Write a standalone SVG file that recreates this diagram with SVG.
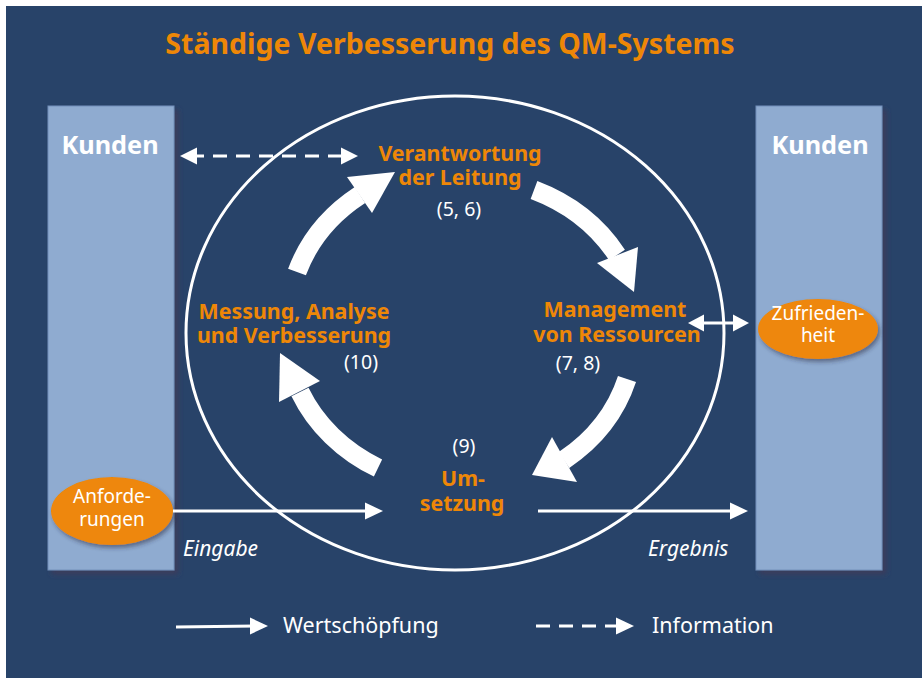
<svg xmlns="http://www.w3.org/2000/svg" width="922" height="678" viewBox="0 0 922 678">
<defs>
<style>
.bg{fill:#284369}
.box{fill:#8FABD0;stroke:#7390BA;stroke-width:1}
.kunden{font-family:"Noto Sans","Open Sans",sans-serif;font-weight:bold;font-size:25.3px;fill:#ffffff;text-anchor:middle}
.title{font-family:"Noto Sans","Open Sans",sans-serif;font-weight:bold;font-size:28.5px;fill:#EE8707;text-anchor:middle}
.lbl{font-family:"Noto Sans","Open Sans",sans-serif;font-weight:bold;font-size:21.4px;fill:#EE8707;text-anchor:middle}
.num{font-family:"Noto Sans","Open Sans",sans-serif;font-size:19.5px;fill:#ffffff;text-anchor:middle}
.ell{font-family:"Noto Sans","Open Sans",sans-serif;font-size:19px;fill:#ffffff;text-anchor:middle}
.it{font-family:"Noto Sans","Open Sans",sans-serif;font-style:italic;font-size:21px;fill:#ffffff}
.leg{font-family:"Noto Sans","Open Sans",sans-serif;font-size:21.5px;fill:#ffffff}
.arc{fill:none;stroke:#ffffff;stroke-width:19;stroke-linecap:butt}
.head{fill:#ffffff}
.line{fill:none;stroke:#ffffff;stroke-width:3}
.dash{fill:none;stroke:#ffffff;stroke-width:3;stroke-dasharray:14 9}
.oval{fill:#EE8707}
</style>
<filter id="sh" x="-20%" y="-20%" width="150%" height="150%">
<feGaussianBlur in="SourceAlpha" stdDeviation="2.5"/>
<feOffset dx="4" dy="4" result="b"/>
<feFlood flood-color="#3f3a58" flood-opacity="0.8"/>
<feComposite in2="b" operator="in"/>
<feMerge><feMergeNode/><feMergeNode in="SourceGraphic"/></feMerge>
</filter>
<filter id="sh2" x="-20%" y="-20%" width="150%" height="150%">
<feGaussianBlur in="SourceAlpha" stdDeviation="2"/>
<feOffset dx="2" dy="3" result="b"/>
<feFlood flood-color="#2a2a40" flood-opacity="0.5"/>
<feComposite in2="b" operator="in"/>
<feMerge><feMergeNode/><feMergeNode in="SourceGraphic"/></feMerge>
</filter>
</defs>

<rect class="bg" x="6" y="6" width="916" height="672"/>

<text class="title" x="450" y="54">Ständige Verbesserung des QM-Systems</text>

<g id="kunden-links">
<rect class="box" x="48" y="106" width="126" height="464" filter="url(#sh)"/>
<text class="kunden" x="110" y="154">Kunden</text>
</g>
<g id="kunden-rechts">
<rect class="box" x="756" y="106" width="126" height="464" filter="url(#sh)"/>
<text class="kunden" x="820" y="154">Kunden</text>
</g>

<g id="qm-kreis">
<ellipse cx="455" cy="333" rx="269" ry="237" fill="none" stroke="#ffffff" stroke-width="3"/>
</g>

<g id="anforderungen">
<ellipse class="oval" cx="112" cy="511" rx="61" ry="34" filter="url(#sh2)"/>
<text class="ell" x="112" y="503">Anforde-</text>
<text class="ell" x="112" y="526">rungen</text>
</g>
<g id="zufriedenheit">
<ellipse class="oval" cx="818" cy="329" rx="60" ry="30" filter="url(#sh2)"/>
<text class="ell" x="818" y="320">Zufrieden-</text>
<text class="ell" x="818" y="342">heit</text>
</g>

<g id="verantwortung">
<text class="lbl" x="460" y="161">Verantwortung</text>
<text class="lbl" x="460" y="185">der Leitung</text>
<text class="num" x="459" y="216">(5, 6)</text>
</g>
<g id="management">
<text class="lbl" x="615" y="317">Management</text>
<text class="lbl" x="617" y="342">von Ressourcen</text>
<text class="num" x="578" y="370">(7, 8)</text>
</g>
<g id="umsetzung">
<text class="num" x="464" y="453">(9)</text>
<text class="lbl" x="463" y="486">Um-</text>
<text class="lbl" x="462" y="511">setzung</text>
</g>
<g id="messung">
<text class="lbl" x="294" y="319">Messung, Analyse</text>
<text class="lbl" x="294" y="343">und Verbesserung</text>
<text class="num" x="361" y="369">(10)</text>
</g>

<g id="connectors">
<path class="arc" d="M297,272 A176,157 0 0 1 360,195"/>
<polygon class="head" points="347,177 395,172 372,213"/>
<path class="arc" d="M534,190 A176,157 0 0 1 617,255"/>
<polygon class="head" points="597,263 638,247 634,292"/>
<path class="arc" d="M627,379 A176,157 0 0 1 564,460"/>
<polygon class="head" points="552,437 577,482 532,475"/>
<path class="arc" d="M378,468 A176,157 0 0 1 300,392"/>
<polygon class="head" points="320,381 279,402 280,353"/>

<line class="dash" x1="190" y1="156" x2="346" y2="156"/>
<polygon class="head" points="180,156 197,147.5 197,164.5"/>
<polygon class="head" points="358,156 341,147.5 341,164.5"/>

<line class="line" x1="696" y1="323" x2="741" y2="323"/>
<polygon class="head" points="688,323 704,314.5 704,331.5"/>
<polygon class="head" points="749,323 733,314.5 733,331.5"/>

<line class="line" x1="173" y1="511" x2="370" y2="511"/>
<polygon class="head" points="383,511 365,502.5 365,519.5"/>
<text class="it" x="183" y="556">Eingabe</text>

<line class="line" x1="538" y1="511" x2="735" y2="511"/>
<polygon class="head" points="748,511 730,502.5 730,519.5"/>
<text class="it" x="648" y="556">Ergebnis</text>
</g>

<g id="legende">
<line class="line" x1="176" y1="627" x2="255" y2="626"/>
<polygon class="head" points="268,626 250,617.5 250,634.5"/>
<text class="leg" x="283" y="633">Wertschöpfung</text>
<line class="dash" x1="536" y1="626" x2="618" y2="626"/>
<polygon class="head" points="634,626 616,617.5 616,634.5"/>
<text class="leg" x="652" y="633">Information</text>
</g>
</svg>
